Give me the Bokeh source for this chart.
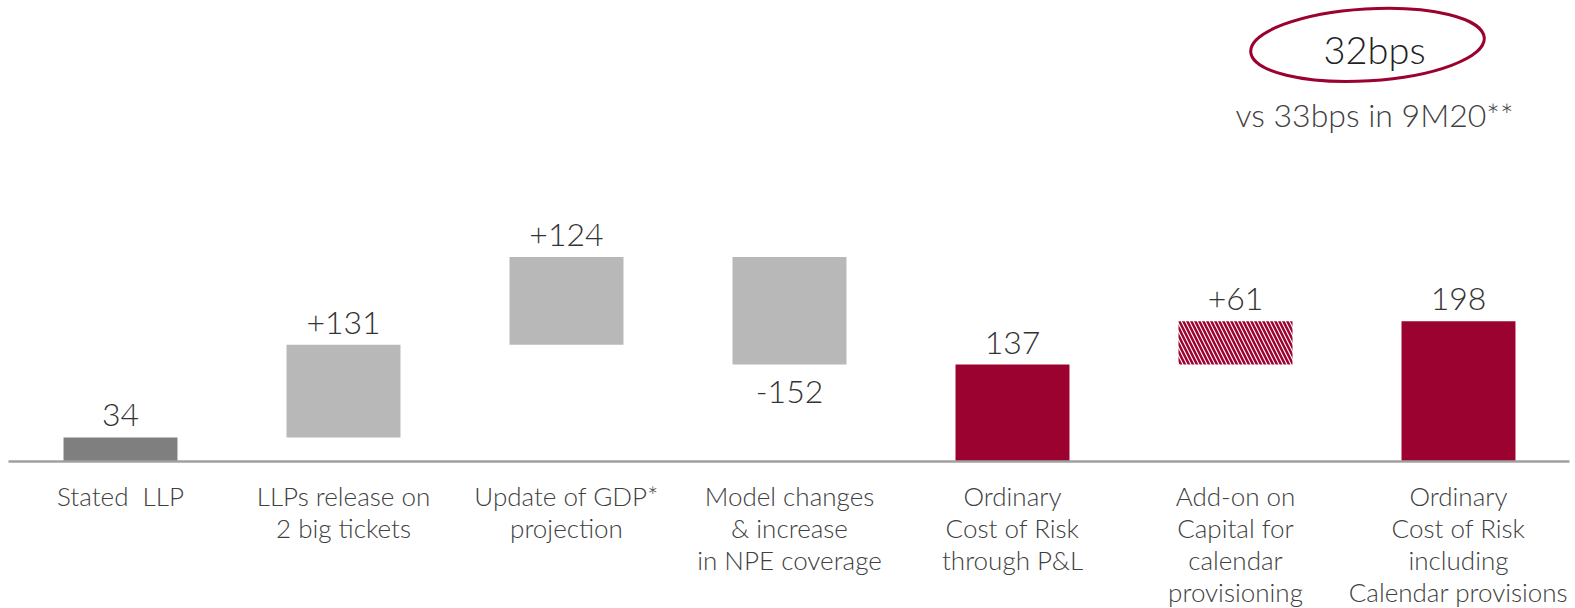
from bokeh.plotting import figure
from bokeh.core.properties import value
from bokeh.embed import file_html
from bokeh.resources import INLINE

categories = ["Stated\u00a0 LLP", "LLPs release on\n2 big tickets", "Update of GDP*\nprojection",
              "Model changes\n& increase\nin NPE coverage", "Ordinary\nCost of Risk\nthrough P&L",
              "Add-on on\nCapital for\ncalendar\nprovisioning", "Ordinary\nCost of Risk\nincluding\nCalendar provisions"]
bottoms = [0, 34, 165, 137, 0, 137, 0]
tops = [34, 165, 289, 289, 137, 198, 198]
labels = ["34", "+131", "+124", "-152", "137", "+61", "198"]
label_above = [True, True, True, False, True, True, True]
kinds = ["stated", "delta", "delta", "delta", "total", "addon", "total"]

colors = {"stated": "#7f7f7f", "delta": "#b8b8b8", "total": "#9b0230", "addon": "#ffffff"}
FONT = "Lato Light, Lato"

W, H = 1575, 608
x0, x1 = -0.5381, 6.5247
p = figure(width=W, height=H, output_backend="svg", toolbar_location=None,
           x_range=(x0, x1), y_range=(-207.6, 651.2), min_border=0)
p.axis.visible = False
p.grid.visible = False
p.outline_line_color = None
p.background_fill_color = "white"

xs = list(range(len(categories)))
for i in xs:
    k = kinds[i]
    if k == "addon":
        p.vbar(x=[i], bottom=[bottoms[i]], top=[tops[i]], width=0.511,
               fill_color="white", line_color=None, hatch_pattern="\\",
               hatch_color="#9b0230", hatch_scale=8, hatch_weight=2.5)
    else:
        p.vbar(x=[i], bottom=[bottoms[i]], top=[tops[i]], width=0.511,
               fill_color=colors[k], line_color=None)

# baseline
span = (x1 - x0) / W
p.segment(x0=[x0 + 8 * span], y0=[0], x1=[x0 + 1569 * span], y1=[0],
          line_color="#a0a0a0", line_width=2.5)

# value labels
ax = [i for i in xs if label_above[i]]
p.text(x=ax, y=[tops[i] for i in ax], text=[labels[i] for i in ax],
       text_font=value(FONT), text_font_size="32px", text_color="#333333",
       text_align="center", text_baseline="bottom", y_offset=-11)
bx = [i for i in xs if not label_above[i]]
p.text(x=bx, y=[bottoms[i] for i in bx], text=[labels[i] for i in bx],
       text_font=value(FONT), text_font_size="32px", text_color="#333333",
       text_align="center", text_baseline="top", y_offset=16)

# category labels
p.text(x=xs, y=[0] * len(xs), text=categories,
       text_font=value(FONT), text_font_size="26px", text_color="#404040",
       text_align="center", text_baseline="top", y_offset=18, text_line_height=1.0)

# annotation ellipse
ex = x0 + 1367 * span
p.ellipse(x=[ex], y=[588.5], width=[234], height=[72], width_units="screen",
          height_units="screen", angle=0.06, fill_color=None, line_color="#9b0230",
          line_width=3)
tx = x0 + 1374 * span
p.text(x=[tx], y=[586.0], text=["32bps"], text_font=value(FONT), text_font_size="38px",
       text_color="#222222", text_align="center", text_baseline="middle", y_offset=2)
p.text(x=[tx], y=[586.0], text=["vs 33bps in 9M20**"], text_font=value(FONT),
       text_font_size="32px", text_color="#404040", text_align="center",
       text_baseline="middle", y_offset=68)

open("out.html", "w").write(file_html(p, INLINE))
